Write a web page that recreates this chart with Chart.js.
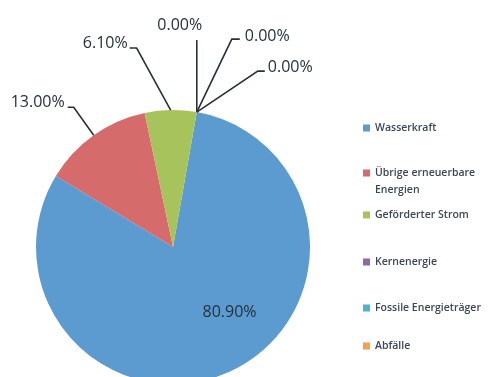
<!DOCTYPE html>
<html>
<head>
<meta charset="utf-8">
<script src="https://cdn.jsdelivr.net/npm/chart.js@4/dist/chart.umd.min.js"></script>
<style>
	html, body { margin: 0; padding: 0; background: #fff; }
	#wrap { width: 490px; height: 377px; overflow: hidden; position: relative; }
</style>
</head>
<body>
<div id="wrap"><canvas id="Chart" width="490" height="400"></canvas></div>
<script>
/* global Chart */

var categories = ["Wasserkraft", "Übrige erneuerbare Energien", "Geförderter Strom",
	"Kernenergie", "Fossile Energieträger", "Abfälle"];
var shares = [80.9, 13.0, 6.1, 0.0, 0.0, 0.0];
var colors = ["#5b9bd0", "#d56b6a", "#a7c35c", "#8a69ae", "#4fb3cf", "#f5a04c"];

// where each data label sits, relative to the slice's outer mid point
var labelPlaces = [
	{text: [0, -59], align: "center"},
	{elbow: [-20, -28], end: [-26, -28], text: [-29, -33], align: "right"},
	{elbow: [-34, -62], end: [-41, -62], text: [-43, -67], align: "right"},
	{elbow: [0, -72], end: [0, -72], text: [-17, -87], align: "center"},
	{elbow: [35, -73], end: [43, -73], text: [48, -76], align: "left"},
	{elbow: [61, -41], end: [68, -41], text: [71, -45], align: "left"}
];
var legendRows = [128, 173, 215, 262, 308, 346];

var pieLabels = {
	id: "pieLabels",
	afterDatasetsDraw: function (chart)
	{
		var ctx = chart.ctx;
		var arcs = chart.getDatasetMeta(0).data;
		ctx.save();
		ctx.font = "500 16px 'Open Sans'";
		ctx.textBaseline = "middle";
		arcs.forEach(function (arc, i)
		{
			var p = arc.getProps(["x", "y", "startAngle", "endAngle", "outerRadius"], true);
			var mid = (p.startAngle + p.endAngle) / 2;
			var ax = p.x + Math.cos(mid) * p.outerRadius;
			var ay = p.y + Math.sin(mid) * p.outerRadius;
			var place = labelPlaces[i];
			if (place.elbow)
			{
				ctx.strokeStyle = "#2a3038";
				ctx.lineWidth = 1.6;
				ctx.beginPath();
				ctx.moveTo(ax, ay);
				ctx.lineTo(ax + place.elbow[0], ay + place.elbow[1]);
				ctx.lineTo(ax + place.end[0], ay + place.end[1]);
				ctx.stroke();
			}
			ctx.fillStyle = "#26303c";
			ctx.textAlign = place.align;
			ctx.fillText(shares[i].toFixed(2) + "%", ax + place.text[0], ay + place.text[1]);
		});
		ctx.restore();
	},
	afterDraw: function (chart)
	{
		var ctx = chart.ctx;
		ctx.save();
		ctx.font = "600 10.5px 'Open Sans'";
		ctx.textBaseline = "middle";
		ctx.textAlign = "left";
		categories.forEach(function (name, i)
		{
			var y = legendRows[i];
			ctx.fillStyle = colors[i];
			ctx.fillRect(363, y - 3.5, 7, 7);
			ctx.fillStyle = "#3b4656";
			var lines = [], line = "";
			name.split(" ").forEach(function (w)
			{
				var test = line ? line + " " + w : w;
				if (line && ctx.measureText(test).width > 125)
				{
					lines.push(line);
					line = w;
				}
				else
					line = test;
			});
			lines.push(line);
			lines.forEach(function (l, k)
			{
				ctx.fillText(l, 375, y + k * 17);
			});
		});
		ctx.restore();
	}
};

new Chart(document.getElementById("Chart"), {
	type: "pie",
	data: {
		labels: categories,
		datasets: [{
			data: shares,
			backgroundColor: colors,
			borderWidth: 0
		}]
	},
	options: {
		responsive: false,
		animation: false,
		rotation: 10,
		layout: {padding: {left: 36, right: 180, top: 110, bottom: 16}},
		plugins: {legend: {display: false}, tooltip: {enabled: false}}
	},
	plugins: [pieLabels]
});
</script>
</body>
</html>
